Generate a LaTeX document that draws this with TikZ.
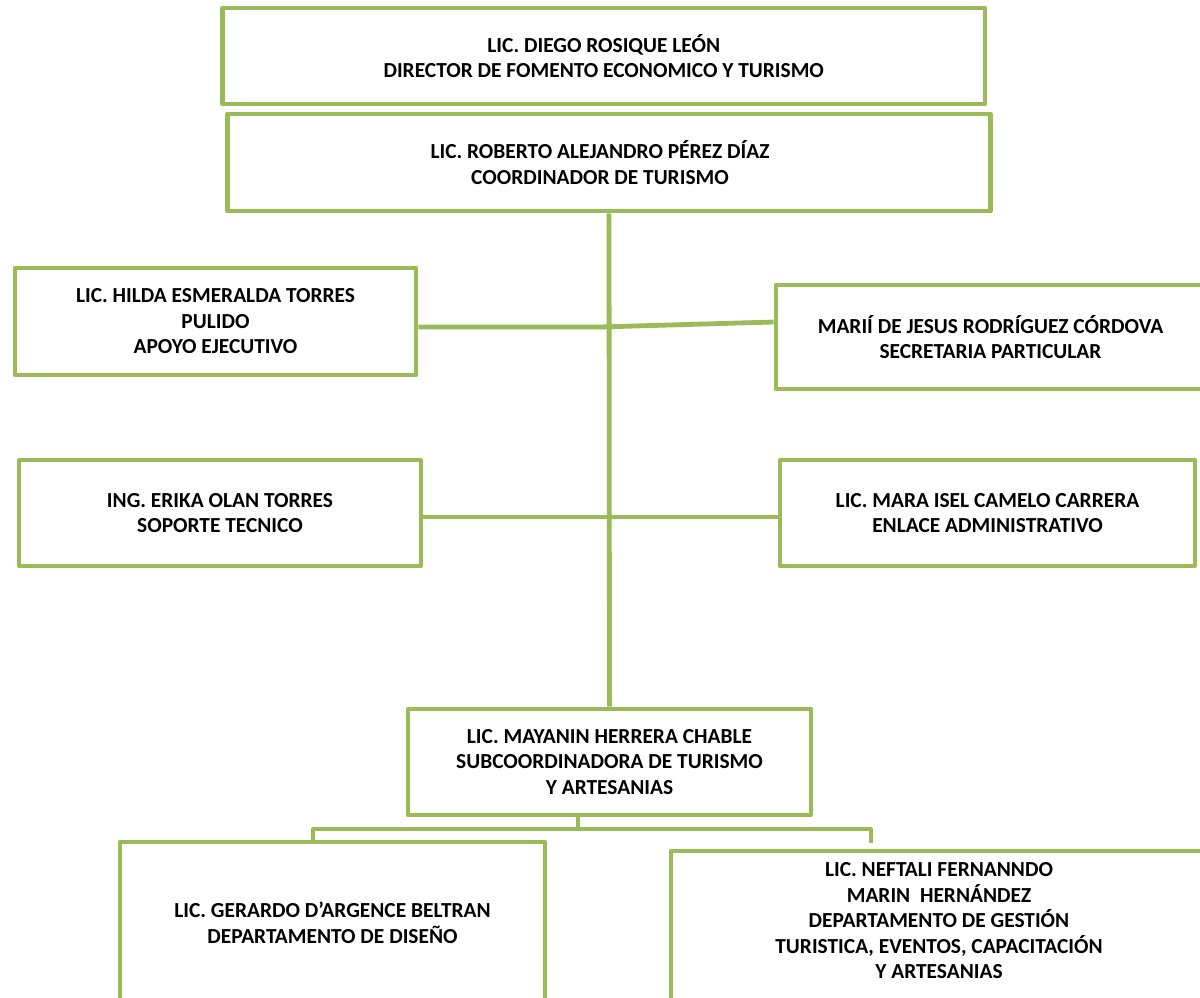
\documentclass[tikz,border=0pt]{standalone}
\usepackage{fontspec}
\setmainfont{Carlito}
\definecolor{og}{HTML}{9BBB59}
\begin{document}
\begin{tikzpicture}[x=1pt,y=-1pt,
  txt/.style={inner sep=0pt,align=center,font=\fontsize{21.4}{25.5}\selectfont\bfseries,text=black},
  box/.style={txt,draw=og,line width=4.8pt,line join=round},
  link/.style={draw=og,line width=4.8pt,line join=round}]
\clip (0,0) rectangle (1200,997);
\fill[white] (0,0) rectangle (1200,997);
\node[box,minimum width=762.5pt,minimum height=96pt] (dir) at (603.75,56)
  {LIC. DIEGO ROSIQUE LEÓN\\DIRECTOR DE FOMENTO ECONOMICO Y TURISMO};
\node[box,minimum width=763pt,minimum height=97pt] (coord) at (609,162.5) {};
\node[txt] (coordtext) at (600,162.5)
  {LIC. ROBERTO ALEJANDRO PÉREZ DÍAZ\\COORDINADOR DE TURISMO};
\node[box,minimum width=401pt,minimum height=107pt] (hilda) at (215.5,321.5)
  {LIC. HILDA ESMERALDA TORRES\\PULIDO\\APOYO EJECUTIVO};
\node[box,minimum width=429pt,minimum height=104pt] (mari) at (990.5,337)
  {MARIÍ DE JESUS RODRÍGUEZ CÓRDOVA\\SECRETARIA PARTICULAR};
\node[box,minimum width=402pt,minimum height=106pt] (erika) at (220,513)
  {ING. ERIKA OLAN TORRES\\SOPORTE TECNICO};
\node[box,minimum width=415pt,minimum height=106pt] (mara) at (987.5,513)
  {LIC. MARA ISEL CAMELO CARRERA\\ENLACE ADMINISTRATIVO};
\node[box,minimum width=403pt,minimum height=106pt] (may) at (609.5,762)
  {LIC. MAYANIN HERRERA CHABLE\\SUBCOORDINADORA DE TURISMO\\Y ARTESANIAS};
\node[box,minimum width=425pt,minimum height=162pt] (ger) at (332.5,923)
  {LIC. GERARDO D’ARGENCE BELTRAN\\DEPARTAMENTO DE DISEÑO};
\node[box,minimum width=534pt,minimum height=154pt] (nef) at (938,928) {};
\node[txt] (neftext) at (939,921)
  {LIC. NEFTALI FERNANNDO\\MARIN\ \ HERNÁNDEZ\\DEPARTAMENTO DE GESTIÓN\\TURISTICA, EVENTOS, CAPACITACIÓN\\Y ARTESANIAS};
% connectors
\draw[link] (coord.south) -- (may.north);
\coordinate (hj) at (600,327);
\coordinate (mj) at (776,322);
\draw[link] (hilda.east |- hj) -- (hj) -- (mari.west |- mj);
\coordinate (ej) at (600,517);
\draw[link] (erika.east |- ej) -- (mara.west |- ej);
\coordinate (bj) at (578,829);
\coordinate (bl) at (313,829);
\coordinate (br) at (871,829);
\coordinate (bend) at (871,843);
\draw[link] (may.south -| bj) -- (bj);
\draw[link] (ger.north -| bl) -- (bl) -- (br) -- (bend);
\end{tikzpicture}
\end{document}
